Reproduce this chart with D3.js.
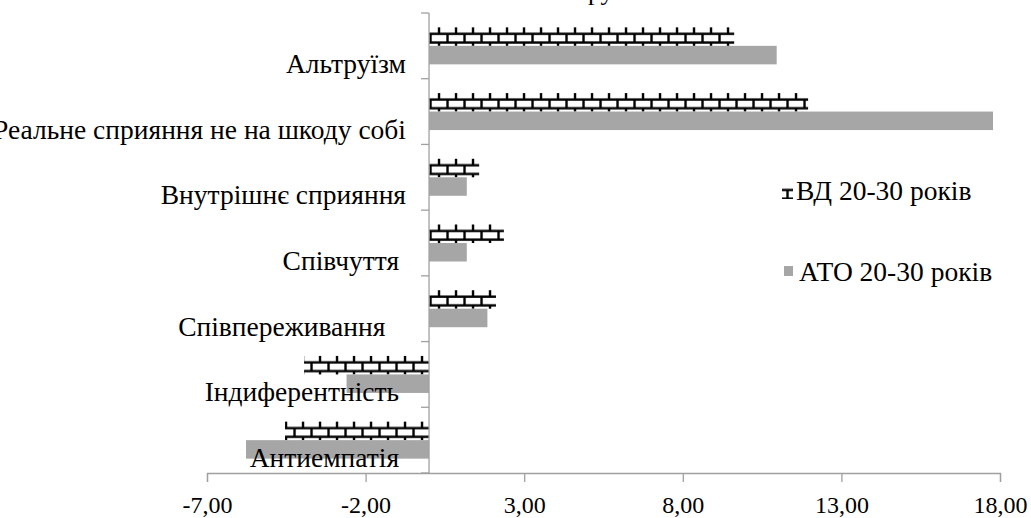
<!DOCTYPE html>
<html><head><meta charset="utf-8">
<script src="https://cdn.jsdelivr.net/npm/d3@7"></script>
<style>
body{margin:0;background:#fff}
svg{display:block}
</style>
</head><body><svg id="chart" width="1031" height="518"></svg>
<script>
const categories = ["Альтруїзм","Реальне сприяння не на шкоду собі","Внутрішнє сприяння","Співчуття ","Співпереживання   ","Індиферентність ","Антиемпатія "];
const seriesNames = ["ВД 20-30 років","АТО 20-30 років"];
const vdValues = [9.62, 11.95, 1.58, 2.36, 2.11, -3.94, -4.54];
const atoValues = [10.96, 17.78, 1.19, 1.19, 1.84, -2.60, -5.77];
const xTicks = [-7, -2, 3, 8, 13, 18];
const titleText = "Групи";

const svg = d3.select("#chart");
const FONT = "Liberation Serif";
const axisColor = "#a0a0a0";
const grayFill = "#a6a6a6";

const x = d3.scaleLinear().domain([-7, 18]).range([207, 1000]);
const y = d3.scaleBand().domain(categories).range([13, 473]).paddingInner(0).paddingOuter(0);
const ys = d3.scaleBand().domain(seriesNames).range([0, y.bandwidth()]).paddingInner(0).paddingOuter(0.776);
const bh = ys.bandwidth();

const loc = d3.formatLocale({decimal: ",", thousands: " ", grouping: [3], currency: ["", ""], minus: "-"});
const fmt = loc.format(".2f");

function styleText(sel, size) {
  return sel.attr("font-family", FONT).attr("font-size", size).attr("fill", "#000");
}

// brick pattern
const defs = svg.append("defs");
const pat = defs.append("pattern").attr("id", "brick")
  .attr("patternUnits", "userSpaceOnUse")
  .attr("x", x(0)).attr("y", 0).attr("width", 17).attr("height", bh);
pat.append("rect").attr("width", 17).attr("height", bh).attr("fill", "#fff");
const l1 = bh * 0.35, l2 = bh * 0.82;
const pl = pat.append("g").attr("stroke", "#000").attr("stroke-width", 2.4).attr("fill", "none");
pl.append("line").attr("x1", 0).attr("x2", 17).attr("y1", l1).attr("y2", l1);
pl.append("line").attr("x1", 0).attr("x2", 17).attr("y1", l2).attr("y2", l2);
pl.append("line").attr("x1", 10).attr("x2", 10).attr("y1", 0).attr("y2", l1);
pl.append("line").attr("x1", 10).attr("x2", 10).attr("y1", l2).attr("y2", bh);
pl.append("line").attr("x1", 1.5).attr("x2", 1.5).attr("y1", l1).attr("y2", l2);

// title (clipped at top, as in the reference)
styleText(svg.append("text").attr("x", 608).attr("y", 0).attr("text-anchor", "middle"), 26).text(titleText);

// bars
const rows = categories.map((c, i) => ({c, vd: vdValues[i], ato: atoValues[i]}));
const g = svg.append("g");
rows.forEach(r => {
  const yv = y(r.c) + ys(seriesNames[0]);
  const ya = y(r.c) + ys(seriesNames[1]);
  g.append("g").attr("transform", `translate(0,${yv})`)
    .append("rect")
    .attr("x", Math.min(x(0), x(r.vd))).attr("y", 0)
    .attr("width", Math.abs(x(r.vd) - x(0))).attr("height", bh)
    .attr("fill", "url(#brick)");
  g.append("rect")
    .attr("x", Math.min(x(0), x(r.ato))).attr("y", ya)
    .attr("width", Math.abs(x(r.ato) - x(0))).attr("height", bh)
    .attr("fill", grayFill);
});

// x axis
const xAxis = d3.axisBottom(x).tickValues(xTicks).tickFormat(fmt).tickSize(9).tickPadding(14);
const gx = svg.append("g").attr("transform", `translate(0,473)`).call(xAxis);
gx.attr("font-family", FONT).attr("font-size", 24);
gx.select(".domain").attr("stroke", axisColor).attr("stroke-width", 1.3);
gx.selectAll(".tick line").attr("stroke", axisColor).attr("stroke-width", 1.3);
styleText(gx.selectAll(".tick text"), 24);

// y axis line + ticks at band boundaries
const gy = svg.append("g");
gy.append("line").attr("x1", x(0)).attr("x2", x(0)).attr("y1", y.range()[0]).attr("y2", y.range()[1])
  .attr("stroke", axisColor).attr("stroke-width", 1.3);
const bounds = categories.map(c => y(c)).concat([y.range()[1]]);
gy.selectAll("line.tk").data(bounds).join("line").attr("class", "tk")
  .attr("x1", x(0) - 8).attr("x2", x(0)).attr("y1", d => d).attr("y2", d => d)
  .attr("stroke", axisColor).attr("stroke-width", 1.3);

// category labels
styleText(svg.append("g").selectAll("text").data(categories).join("text")
  .attr("xml:space", "preserve")
  .attr("x", 406).attr("y", d => y(d) + y.bandwidth() / 2 + 27)
  .attr("text-anchor", "end"), 27.5)
  .text(d => d);

// legend
const lg = svg.append("g");
lg.append("g").attr("transform", `translate(0,${190 - l1})`)
  .append("rect").attr("x", 782).attr("y", l1 - 3).attr("width", 11).attr("height", 12).attr("fill", "url(#brick)");
styleText(lg.append("text").attr("x", 796).attr("y", 200), 27.5).text(seriesNames[0]);
lg.append("rect").attr("x", 784).attr("y", 266).attr("width", 9).attr("height", 10).attr("fill", grayFill);
styleText(lg.append("text").attr("x", 799).attr("y", 281), 27.5).text(seriesNames[1]);
</script>
</body></html>
